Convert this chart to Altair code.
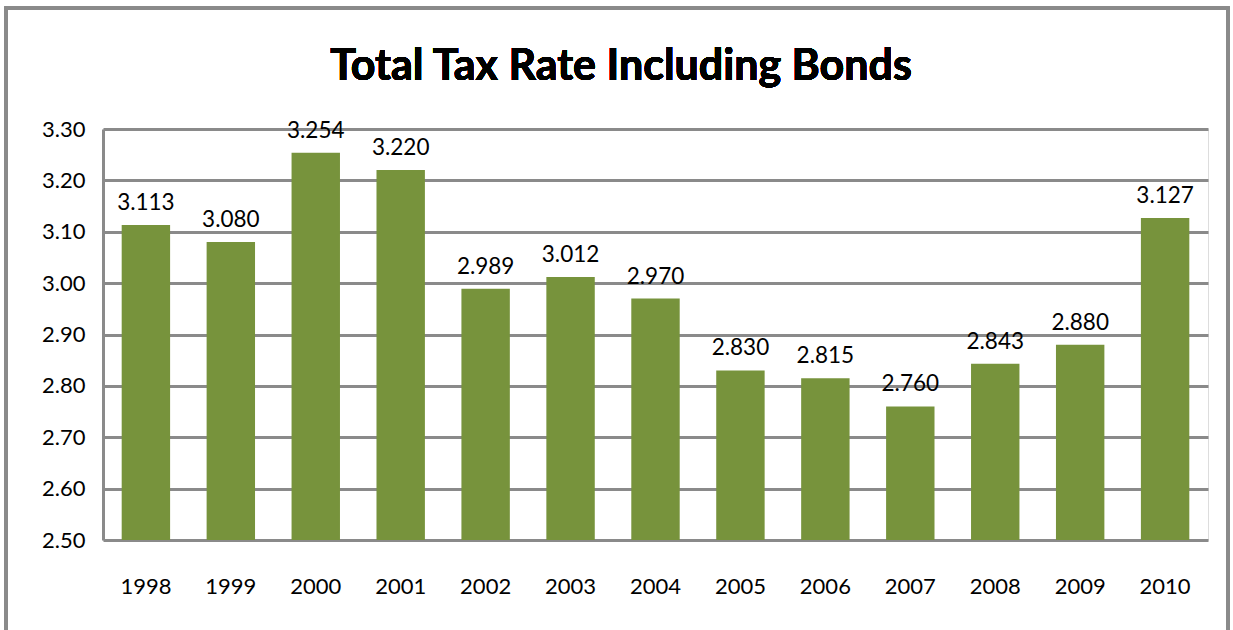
import altair as alt
import pandas as pd

years = ["1998", "1999", "2000", "2001", "2002", "2003", "2004",
         "2005", "2006", "2007", "2008", "2009", "2010"]
rates = [3.113, 3.080, 3.254, 3.220, 2.989, 3.012, 2.970,
         2.830, 2.815, 2.760, 2.843, 2.880, 3.127]
labels = ["3.113", "3.080", "3.254", "3.220", "2.989", "3.012", "2.970",
          "2.830", "2.815", "2.760", "2.843", "2.880", "3.127"]
title_text = "Total Tax Rate Including Bonds"

df = pd.DataFrame({"year": years, "rate": rates, "label": labels})

FONT = "Lato"
GRID = "#8a8a8a"

x = alt.X("year:N", sort=years, title=None,
          scale=alt.Scale(paddingInner=0.43, paddingOuter=0.22),
          axis=alt.Axis(labelAngle=0, labelFontSize=22, labelFont=FONT,
                        labelColor="#000000", labelPadding=36, ticks=False,
                        domain=False, grid=False))
y = alt.Y("rate:Q", title=None,
          scale=alt.Scale(domain=[2.5, 3.3], nice=False, zero=False, clamp=True),
          axis=alt.Axis(values=[2.5, 2.6, 2.7, 2.8, 2.9, 3.0, 3.1, 3.2, 3.3],
                        format=".2f", labelFontSize=22, labelFont=FONT,
                        labelColor="#000000", labelPadding=18, ticks=False,
                        domain=True, domainColor=GRID, domainWidth=3,
                        grid=True, gridColor=GRID, gridWidth=3))

bars = alt.Chart(df).mark_bar(color="#77933C").encode(x=x, y=y, y2=alt.datum(2.5))

text = alt.Chart(df).mark_text(baseline="bottom", dy=-10, fontSize=22.5,
                               font=FONT, color="#000000").encode(
    x=alt.X("year:N", sort=years), y="rate:Q", text="label:N")

border = alt.Chart(df).mark_rect(fill=None, stroke=GRID, strokeWidth=3).encode(
    x=alt.value(-97), x2=alt.value(1125), y=alt.value(-121), y2=alt.value(700))

title = alt.Chart(df).mark_text(text=title_text, font=FONT, fontSize=43,
                                fontWeight="bold", color="#000000",
                                align="center", baseline="alphabetic").encode(
    x=alt.value(518), y=alt.value(-49))

chart = alt.layer(border, bars, text, title).properties(
    width=1105, height=411,
    autosize=alt.AutoSizeParams(type="none"),
    padding={"left": 103, "top": 129, "right": 25, "bottom": 90},
).configure_view(stroke=None).configure(background="#ffffff")

chart.save("out.html", embed_options={"renderer": "svg", "actions": False})
